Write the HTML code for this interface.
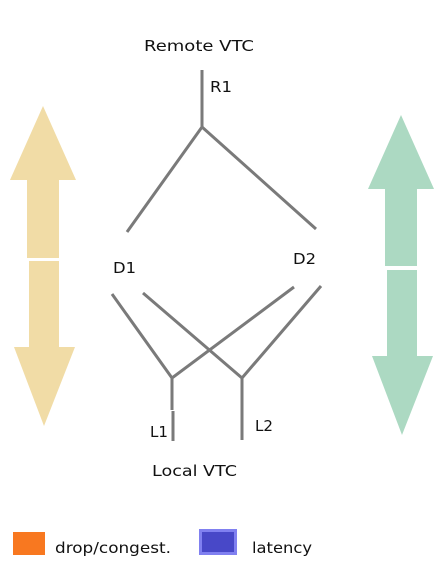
<!DOCTYPE html>
<html><head><style>
html,body{margin:0;padding:0;background:#fff;}
svg{display:block;}
text{font-family:"DejaVu Sans","Liberation Sans",sans-serif;fill:#111;}
</style></head><body>
<svg width="441" height="577" viewBox="0 0 441 577" xmlns="http://www.w3.org/2000/svg">
<g fill="#f1dca6">
<polygon points="43,106 76,180 59,180 59,258 27,258 27,180 10,180"/>
<polygon points="29,261 59,261 59,347 75,347 44,426 14,347 29,347"/>
</g>
<g fill="#acd9c2">
<polygon points="401,115 434,189 417,189 417,266 385,266 385,189 368,189"/>
<polygon points="387,270 417,270 417,356 433,356 402,435 372,356 387,356"/>
</g>
<g stroke="#7a7a7a" stroke-width="3" fill="none">
<line x1="202" y1="70" x2="202" y2="127"/>
<polyline points="127,232 202,127 316,229"/>
<polyline points="112,294 172,378 294,287"/>
<polyline points="143,293 242,378 321,286"/>
<line x1="172" y1="378" x2="172" y2="410"/>
<line x1="173" y1="411" x2="173" y2="441"/>
<line x1="242" y1="378" x2="242" y2="440"/>
</g>
<text x="144" y="51" font-size="15" textLength="110" lengthAdjust="spacingAndGlyphs">Remote VTC</text>
<text x="210" y="92" font-size="15" textLength="22" lengthAdjust="spacingAndGlyphs">R1</text>
<text x="113" y="273" font-size="15" textLength="23" lengthAdjust="spacingAndGlyphs">D1</text>
<text x="293" y="264" font-size="15" textLength="23" lengthAdjust="spacingAndGlyphs">D2</text>
<text x="150" y="437" font-size="15" textLength="18" lengthAdjust="spacingAndGlyphs">L1</text>
<text x="255" y="431" font-size="15" textLength="18" lengthAdjust="spacingAndGlyphs">L2</text>
<text x="152" y="476" font-size="15" textLength="85" lengthAdjust="spacingAndGlyphs">Local VTC</text>
<rect x="13" y="532" width="32" height="23" fill="#f87820"/>
<text x="55" y="553" font-size="15" textLength="116" lengthAdjust="spacingAndGlyphs">drop/congest.</text>
<rect x="199" y="529" width="38" height="26" fill="#8080f0"/>
<rect x="202" y="532" width="32" height="20" fill="#4848c8"/>
<text x="252" y="553" font-size="15" textLength="60" lengthAdjust="spacingAndGlyphs">latency</text>
</svg>
</body></html>
